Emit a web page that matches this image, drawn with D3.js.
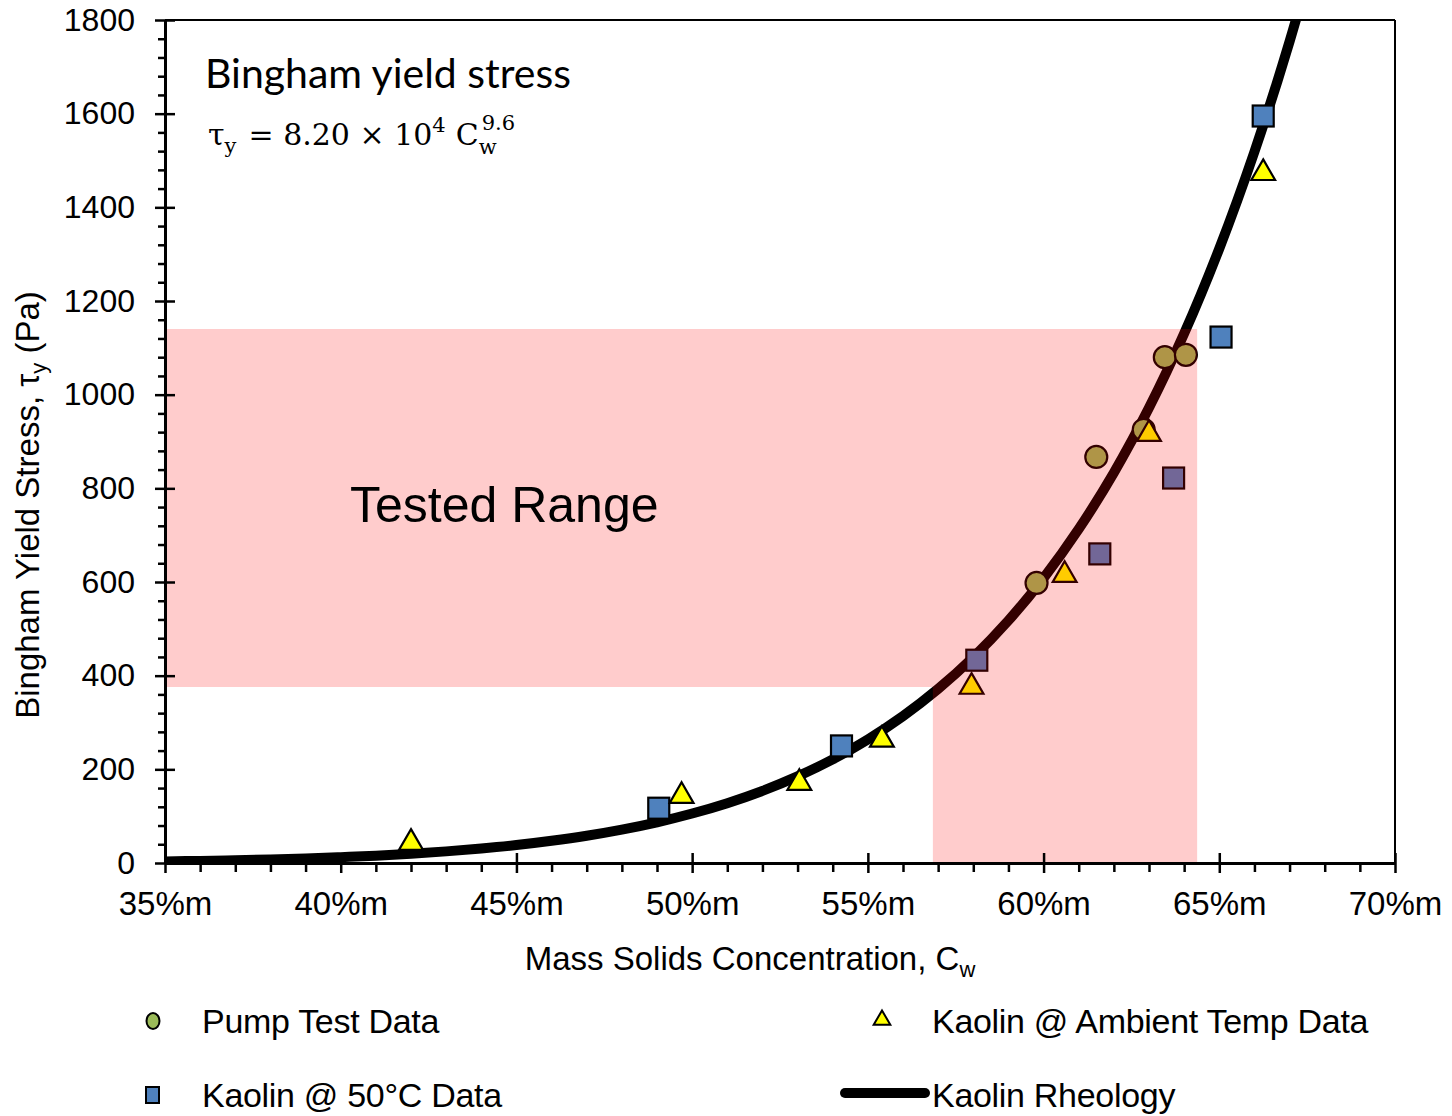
<!DOCTYPE html>
<html>
<head>
<meta charset="utf-8">
<script src="https://cdn.jsdelivr.net/npm/d3@7"></script>
<style>
  body { margin: 0; background: #fff; }
</style>
</head>
<body>
<div id="chart"></div>
<script>
// data
const pumpCw = [59.8, 61.5, 62.85, 63.45, 64.05];
const pumpTau = [598, 867, 925, 1080, 1085];

const ambientCw = [42.0, 49.7, 53.05, 55.4, 57.95, 60.6, 63.0, 66.25];
const ambientTau = [43, 143, 171, 263, 376, 615, 916, 1473];

const hotCw = [49.05, 54.25, 58.1, 61.6, 63.7, 65.05, 66.25];
const hotTau = [117, 250, 433, 660, 822, 1123, 1595];

// fitted Kaolin rheology curve, sampled every 1 %m
const curveCw = [35, 36, 37, 38, 39, 40, 41, 42, 43, 44, 45, 46, 47, 48, 49, 50,
  51, 52, 53, 54, 55, 56, 57, 58, 59, 60, 61, 62, 63, 64, 65, 66, 67, 68];
const curveTau = [3.4, 4.5, 5.9, 7.6, 9.7, 12.4, 15.7, 19.8, 24.8, 31.0, 38.4, 47.5,
  58.3, 71.4, 87.0, 105.7, 127.8, 154.0, 184.9, 221.2, 263.9, 313.7, 371.7, 439.3,
  517.7, 608.3, 713.0, 833.4, 971.9, 1130.4, 1311.9, 1518.7, 1754.1, 2022.6];

// tested range box (Cw low/high of lower block, tau low/high of band)
const testedCw = [56.85, 64.37];
const testedTau = [376, 1140];

const xTicks = [35, 40, 45, 50, 55, 60, 65, 70];
const yTicks = [0, 200, 400, 600, 800, 1000, 1200, 1400, 1600, 1800];

const sans = "'Liberation Sans', Arial, sans-serif";

const margin = {top: 20, right: 57, bottom: 253, left: 165},
width = 1452 - margin.left - margin.right,
height = 1116 - margin.top - margin.bottom;

const svgRoot = d3.select("#chart")
  .append("svg")
  .attr("width", 1452)
  .attr("height", 1116)
  .style("font-family", sans);
const svg = svgRoot.append("g")
  .attr("transform", `translate(${margin.left},${margin.top})`);

const x = d3.scaleLinear().domain([35, 70]).range([0, width]);
const y = d3.scaleLinear().domain([0, 1800]).range([height, 0]);

svg.append("clipPath").attr("id", "plotClip")
  .append("rect").attr("x", 0).attr("y", 0).attr("width", width).attr("height", height);

// rheology curve
const curveData = curveCw.map((c, i) => [c, curveTau[i]]);
svg.append("path")
  .datum(curveData)
  .attr("clip-path", "url(#plotClip)")
  .attr("fill", "none")
  .attr("stroke", "#000")
  .attr("stroke-width", 10)
  .attr("d", d3.line().curve(d3.curveCatmullRom)
    .x(d => x(d[0])).y(d => y(d[1])));

// markers
const sq = 21;
svg.selectAll("rect.hot")
  .data(hotCw.map((c, i) => [c, hotTau[i]]))
  .join("rect")
    .attr("class", "hot")
    .attr("x", d => x(d[0]) - sq / 2)
    .attr("y", d => y(d[1]) - sq / 2)
    .attr("width", sq).attr("height", sq)
    .attr("fill", "#4f81bd")
    .attr("stroke", "#000")
    .attr("stroke-width", 2.2);

svg.selectAll("circle.pump")
  .data(pumpCw.map((c, i) => [c, pumpTau[i]]))
  .join("circle")
    .attr("class", "pump")
    .attr("cx", d => x(d[0]))
    .attr("cy", d => y(d[1]))
    .attr("r", 11)
    .attr("fill", "#9bbb59")
    .attr("stroke", "#000")
    .attr("stroke-width", 2.2);

const tri = d3.symbol().type(d3.symbolTriangle).size(245);
svg.selectAll("path.amb")
  .data(ambientCw.map((c, i) => [c, ambientTau[i]]))
  .join("path")
    .attr("class", "amb")
    .attr("transform", d => `translate(${x(d[0])},${y(d[1])})`)
    .attr("d", tri)
    .attr("fill", "#ffff00")
    .attr("stroke", "#000")
    .attr("stroke-width", 2.2);

// tested range overlay (translucent red on top of the data)
const rangePts = [
  [35, testedTau[1]], [testedCw[1], testedTau[1]], [testedCw[1], 0],
  [testedCw[0], 0], [testedCw[0], testedTau[0]], [35, testedTau[0]]
];
svg.append("path")
  .attr("d", "M" + rangePts.map(p => `${x(p[0])},${y(p[1])}`).join("L") + "Z")
  .attr("fill", "rgba(255,0,0,0.2)");

svg.append("text")
  .attr("x", 185).attr("y", 522 - margin.top)
  .attr("font-size", 50)
  .text("Tested Range");

// frame (top, right)
svg.append("line").attr("x1", 0).attr("x2", width).attr("y1", 0).attr("y2", 0)
  .attr("stroke", "#000").attr("stroke-width", 2);
svg.append("line").attr("x1", width).attr("x2", width).attr("y1", 0).attr("y2", height)
  .attr("stroke", "#000").attr("stroke-width", 2);

// Y axis
const yMinor = d3.range(0, 1801, 40).filter(v => v % 200 !== 0);
svg.append("g")
  .call(d3.axisLeft(y).tickValues(yMinor).tickSize(7).tickFormat(""))
  .call(g => g.select(".domain").remove())
  .selectAll("line").attr("stroke-width", 2.5);
svg.append("g")
  .call(d3.axisRight(y).tickValues(yTicks).tickSize(10).tickFormat(""))
  .call(g => g.select(".domain").remove())
  .selectAll("line").attr("stroke-width", 2.5);
const yAxis = svg.append("g")
  .call(d3.axisLeft(y).tickValues(yTicks).tickSize(10).tickSizeOuter(0).tickPadding(20)
    .tickFormat(d3.format("d")));
yAxis.select(".domain").attr("stroke-width", 3);
yAxis.selectAll("line").attr("stroke-width", 2.5);
yAxis.selectAll("text").attr("font-size", 32).attr("fill", "#000")
  .style("font-family", sans);

// X axis
const xMinor = d3.range(35, 71, 1).filter(v => v % 5 !== 0);
svg.append("g")
  .attr("transform", `translate(0, ${height})`)
  .call(d3.axisBottom(x).tickValues(xMinor).tickSize(9).tickFormat(""))
  .call(g => g.select(".domain").remove())
  .selectAll("line").attr("stroke-width", 2.5);
svg.append("g")
  .attr("transform", `translate(0, ${height})`)
  .call(d3.axisTop(x).tickValues(xTicks).tickSize(10).tickFormat(""))
  .call(g => g.select(".domain").remove())
  .selectAll("line").attr("stroke-width", 2.5);
const xAxis = svg.append("g")
  .attr("transform", `translate(0, ${height})`)
  .call(d3.axisBottom(x).tickValues(xTicks).tickSize(10).tickSizeOuter(0).tickPadding(19)
    .tickFormat(d => d + "%m"));
xAxis.select(".domain").attr("stroke-width", 3);
xAxis.selectAll("line").attr("stroke-width", 2.5);
xAxis.selectAll("text").attr("font-size", 33).attr("fill", "#000")
  .style("font-family", sans);

// axis titles
const xTitle = svgRoot.append("text")
  .attr("x", 750).attr("y", 970)
  .attr("text-anchor", "middle")
  .attr("font-size", 33);
xTitle.append("tspan").text("Mass Solids Concentration, C");
xTitle.append("tspan").attr("font-size", 22).attr("dy", 7).text("w");

const yTitle = svgRoot.append("text")
  .attr("transform", "translate(39,505) rotate(-90)")
  .attr("text-anchor", "middle")
  .attr("font-size", 33);
yTitle.append("tspan").text("Bingham Yield Stress, τ");
yTitle.append("tspan").attr("font-size", 22).attr("dy", 7).text("y");
yTitle.append("tspan").attr("dy", -7).text(" (Pa)");

// annotation
svgRoot.append("text")
  .attr("x", 205).attr("y", 88)
  .style("font-family", "Lato, 'Open Sans', sans-serif")
  .attr("font-size", 41)
  .text("Bingham yield stress");

const eq = svgRoot.append("text")
  .attr("x", 208).attr("y", 145)
  .style("font-family", "'DejaVu Serif', 'Liberation Serif', serif")
  .attr("font-size", 30);
eq.append("tspan").text("τ");
eq.append("tspan").attr("font-size", 21).attr("dy", 8).text("y");
eq.append("tspan").attr("dy", -8).attr("dx", 12).text("= 8.20 × 10");
eq.append("tspan").attr("font-size", 21).attr("dy", -13).text("4");
eq.append("tspan").attr("dy", 13).attr("dx", 10).text("C");
eq.append("tspan").attr("font-size", 21).attr("dy", 9).text("w");
eq.append("tspan").attr("font-size", 21).attr("dx", -15).attr("dy", -24).text("9.6");

// legend
const legend = svgRoot.append("g");
legend.append("ellipse").attr("cx", 153).attr("cy", 1021).attr("rx", 6.5).attr("ry", 8)
  .attr("fill", "#9bbb59").attr("stroke", "#000").attr("stroke-width", 2);
legend.append("path").attr("transform", "translate(882,1020)")
  .attr("d", d3.symbol().type(d3.symbolTriangle).size(120))
  .attr("fill", "#ffff00").attr("stroke", "#000").attr("stroke-width", 2);
legend.append("rect").attr("x", 146).attr("y", 1087).attr("width", 13).attr("height", 16)
  .attr("fill", "#4f81bd").attr("stroke", "#000").attr("stroke-width", 2);
legend.append("line").attr("x1", 845).attr("x2", 925).attr("y1", 1093).attr("y2", 1093)
  .attr("stroke", "#000").attr("stroke-width", 10).attr("stroke-linecap", "round");

const legendText = [
  ["Pump Test Data", 202, 1033],
  ["Kaolin @ Ambient Temp Data", 932, 1033],
  ["Kaolin @ 50°C Data", 202, 1107],
  ["Kaolin Rheology", 932, 1107]
];
legend.selectAll("text.lg")
  .data(legendText)
  .join("text")
    .attr("class", "lg")
    .attr("x", d => d[1]).attr("y", d => d[2])
    .attr("font-size", 34)
    .attr("letter-spacing", -0.3)
    .text(d => d[0]);
</script>
</body>
</html>
